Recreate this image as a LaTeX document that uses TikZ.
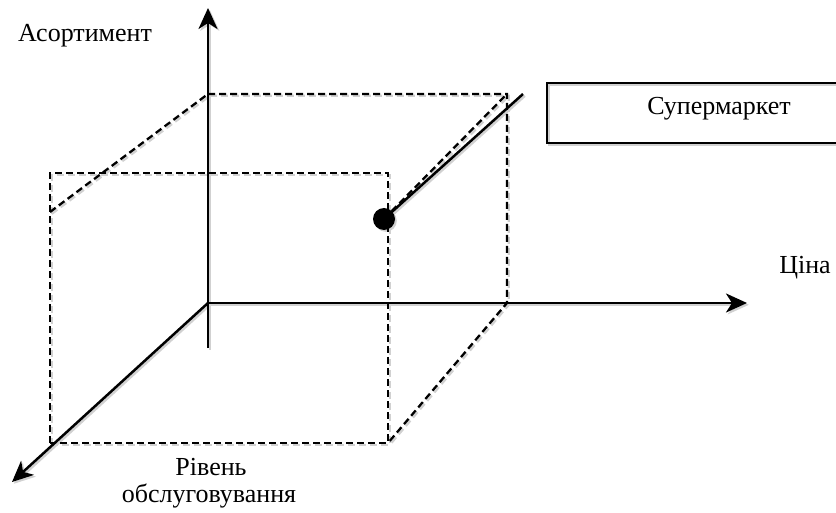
\documentclass[tikz,border=0pt]{standalone}
\usepackage{fontspec}
\setmainfont{Liberation Serif}
\usetikzlibrary{arrows.meta}
\begin{document}
\begin{tikzpicture}[x=1pt,y=-1pt,
  tip/.style={-{Stealth[length=21pt,width=19pt,inset=6pt]}},
  axis/.style={line width=2.5pt,tip},
  solid line/.style={line width=2.5pt},
  guide/.style={line width=2.3pt,dash pattern=on 7pt off 4pt},
  lbl/.style={font=\fontsize{26}{30}\selectfont,inner sep=0pt,anchor=base}]
\clip (0,0) rectangle (836,513);
\useasboundingbox (0,0) rectangle (836,513);

% axis points
\coordinate (O) at (208,303);
\coordinate (vbot) at (208,348);
\coordinate (vtop) at (208,8);
\coordinate (htip) at (747,303);
\coordinate (dtip) at (12,482);

% box corners
\coordinate (b1) at (208,94);
\coordinate (b2) at (507,94);
\coordinate (b3) at (507,303);
\coordinate (f1) at (50,173);
\coordinate (f2) at (388,173);
\coordinate (f3) at (388,443);
\coordinate (f4) at (50,443);
\coordinate (fl) at (50,212);
\coordinate (lineend) at (523,94);
\coordinate (pt) at (384,219);

% soft drop shadow under all strokes
\begin{scope}[transform canvas={shift={(1.8,1.8)}},draw=black!18,fill=black!18,color=black!18]
  \draw[guide] (f4) -- (f1) -- (f2) -- (f3) -- cycle;
  \draw[guide] (b1) -- (b2) -- (b3) -- (f3);
  \draw[guide] (fl) -- (b1);
  \draw[solid line] (vbot) -- (O);
  \draw[axis] (O) -- (vtop);
  \draw[axis] (O) -- (htip);
  \draw[axis] (O) -- (dtip);
  \draw[guide] (pt) -- (b2);
  \draw[solid line] (pt) -- (lineend);
  \fill (pt) circle (11);
  \draw[line width=2.5pt] (547,83) rectangle (891,143);
\end{scope}

% dashed box
\draw[guide] (f4) -- (f1) -- (f2) -- (f3) -- cycle;
\draw[guide] (b1) -- (b2) -- (b3) -- (f3);
\draw[guide] (fl) -- (b1);

% axes
\draw[solid line] (vbot) -- (O);
\draw[axis] (O) -- (vtop);
\draw[axis] (O) -- (htip);
\draw[axis] (O) -- (dtip);

% supermarket point
\node[circle,fill=black,minimum size=22pt,inner sep=0pt] (dot) at (pt) {};
\draw[guide] (dot.center) -- (b2);
\draw[solid line] (dot.center) -- (lineend);

\node[draw,line width=2.5pt,minimum width=344pt,minimum height=60pt,inner sep=0pt,
  text height=13pt,text depth=9pt,font=\fontsize{26}{30}\selectfont] (sm) at (719,113) {Супермаркет};

% axis labels
\node[lbl] (la) at (85,42) {Асортимент};
\node[lbl] (lp) at (805,274) {Ціна};
\node[lbl] (lr1) at (211,475) {Рівень};
\node[lbl] (lr2) at (209,502) {обслуговування};
\end{tikzpicture}
\end{document}
